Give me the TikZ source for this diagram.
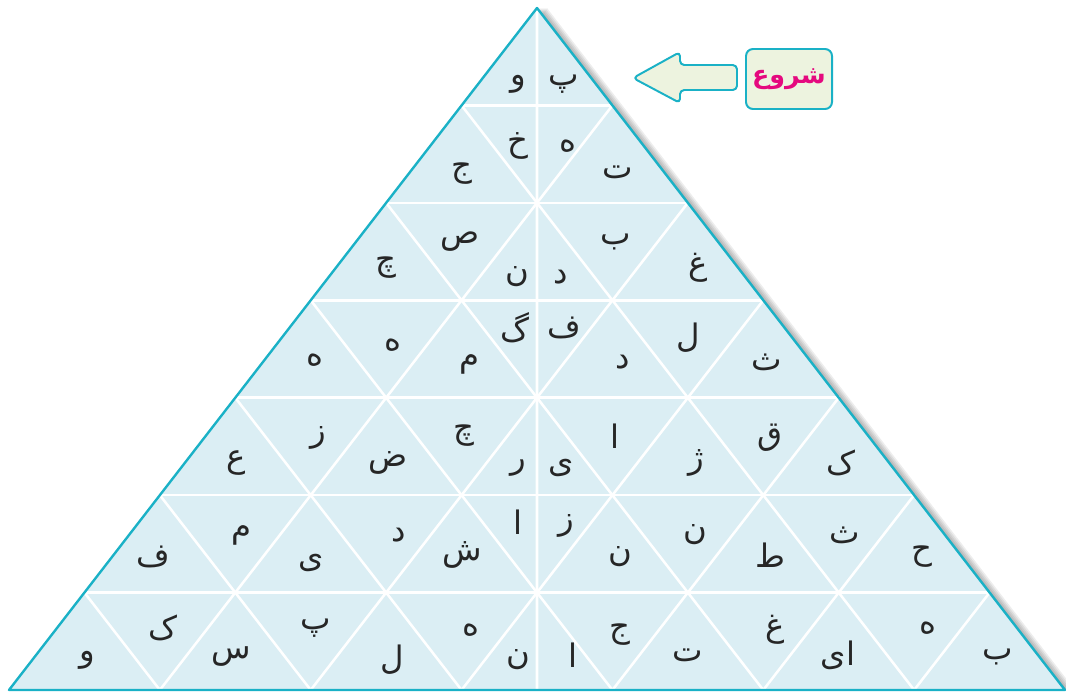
\documentclass[tikz,border=0pt]{standalone}
\usepackage{fontspec}
\newfontfamily\arabicfont[Script=Arabic]{DejaVu Sans}
\TeXXeTstate=1
\usetikzlibrary{calc}
\definecolor{triFill}{HTML}{DBEEF4}
\definecolor{triEdge}{HTML}{1AB1C6}
\definecolor{arrFill}{HTML}{EDF3DF}
\definecolor{startPink}{HTML}{E5097F}
\newcommand{\harf}[1]{\beginR#1\endR}
\begin{document}
\begin{tikzpicture}[x=0.025cm, y=-0.025cm, line cap=round, line join=round,
  letter/.style={font=\arabicfont\fontsize{23}{27}\selectfont, text=black!85, inner sep=1pt},
  grid/.style={white, line width=1.8pt}]
\useasboundingbox (0,0) rectangle (1066,692);
% corners of the big triangle
\coordinate (A) at (537, 8);
\coordinate (B) at (9, 690);
\coordinate (C) at (1065, 690);
% soft shadow on the right side
\foreach \s in {2,4,6,8,10}
  \fill[black, opacity=0.07] ([xshift=\s*0.025cm]A) -- ([xshift=\s*0.025cm]B) -- ([xshift=\s*0.025cm]C) -- cycle;
% face
\fill[triFill] (A) -- (B) -- (C) -- cycle;
% white grid (rows and slanted lines)
\foreach \k in {1,...,6} {
  \draw[grid] ($(A)!\k/7!(B)$) -- ($(A)!\k/7!(C)$);
  \draw[grid] ($(B)!\k/7!(C)$) -- ($(A)!\k/7!(C)$);
  \draw[grid] ($(B)!\k/7!(C)$) -- ($(A)!{(7-\k)/7}!(B)$);
}
\draw[grid] (A) -- ($(B)!0.5!(C)$);   % middle line
% outline
\draw[triEdge, line width=1.7pt] (A) -- (B) -- (C) -- cycle;

% row 1
\node[letter] (r1a) at (518, 84) {\harf{و}};
\node[letter] (r1b) at (564, 84) {\harf{پ}};
% row 2
\node[letter] (r2a) at (462,174) {\harf{ج}};
\node[letter] (r2b) at (518,146) {\harf{خ}};
\node[letter] (r2c) at (568,146) {\harf{ه}};
\node[letter] (r2d) at (618,172) {\harf{ت}};
% row 3
\node[letter] (r3a) at (386,268) {\harf{چ}};
\node[letter] (r3b) at (460,242) {\harf{ص}};
\node[letter] (r3c) at (517,277) {\harf{ن}};
\node[letter] (r3d) at (561,277) {\harf{د}};
\node[letter] (r3e) at (616,242) {\harf{ب}};
\node[letter] (r3f) at (698,268) {\harf{غ}};
% row 4
\node[letter] (r4a) at (315,360) {\harf{ه}};
\node[letter] (r4b) at (393,345) {\harf{ه}};
\node[letter] (r4c) at (470,364) {\harf{م}};
\node[letter] (r4d) at (515,328) {\harf{گ}};
\node[letter] (r4e) at (564,328) {\harf{ف}};
\node[letter] (r4f) at (623,362) {\harf{د}};
\node[letter] (r4g) at (688,338) {\harf{ل}};
\node[letter] (r4h) at (767,362) {\harf{ث}};
% row 5
\node[letter] (r5a) at (236,463) {\harf{ع}};
\node[letter] (r5b) at (318,438) {\harf{ز}};
\node[letter] (r5c) at (388,463) {\harf{ض}};
\node[letter] (r5d) at (464,436) {\harf{چ}};
\node[letter] (r5e) at (518,468) {\harf{ر}};
\node[letter] (r5f) at (561,468) {\harf{ی}};
\node[letter] (r5g) at (615,436) {\harf{ا}};
\node[letter] (r5h) at (696,463) {\harf{ژ}};
\node[letter] (r5i) at (770,438) {\harf{ق}};
\node[letter] (r5j) at (841,463) {\harf{ک}};
% row 6
\node[letter] (r6a) at (153,557) {\harf{ف}};
\node[letter] (r6b) at (242,535) {\harf{م}};
\node[letter] (r6c) at (311,563) {\harf{ی}};
\node[letter] (r6d) at (399,535) {\harf{د}};
\node[letter] (r6e) at (462,555) {\harf{ش}};
\node[letter] (r6f) at (518,522) {\harf{ا}};
\node[letter] (r6g) at (566,526) {\harf{ز}};
\node[letter] (r6h) at (620,557) {\harf{ن}};
\node[letter] (r6i) at (695,535) {\harf{ن}};
\node[letter] (r6j) at (770,555) {\harf{ط}};
\node[letter] (r6k) at (845,535) {\harf{ث}};
\node[letter] (r6l) at (922,557) {\harf{ح}};
% row 7
\node[letter] (r7a) at (87,660)  {\harf{و}};
\node[letter] (r7b) at (163,628) {\harf{ک}};
\node[letter] (r7c) at (231,657) {\harf{س}};
\node[letter] (r7d) at (316,628) {\harf{پ}};
\node[letter] (r7e) at (392,660) {\harf{ل}};
\node[letter] (r7f) at (471,630) {\harf{ه}};
\node[letter] (r7g) at (518,660) {\harf{ن}};
\node[letter] (r7h) at (573,655) {\harf{ا}};
\node[letter] (r7i) at (620,635) {\harf{ج}};
\node[letter] (r7j) at (688,655) {\harf{ت}};
\node[letter] (r7k) at (775,630) {\harf{غ}};
\node[letter] (r7l) at (838,655) {\harf{ای}};
\node[letter] (r7m) at (928,628) {\harf{ه}};
\node[letter] (r7n) at (998,657) {\harf{ب}};

% start box and arrow
\node[draw=triEdge, line width=1.4pt, fill=arrFill, rounded corners=5pt,
  minimum width=2.15cm, minimum height=1.5cm, inner sep=2pt, text=startPink,
  font=\arabicfont\bfseries\fontsize{18}{22}\selectfont] (start) at (789,79) {\harf{شروع}};
\draw[triEdge, line width=1.4pt, fill=arrFill, rounded corners=3pt]
  (633,78) -- (680,52) -- (680,65) -- (737,65) -- (737,90) -- (680,90) -- (680,103) -- cycle;
\end{tikzpicture}
\end{document}
